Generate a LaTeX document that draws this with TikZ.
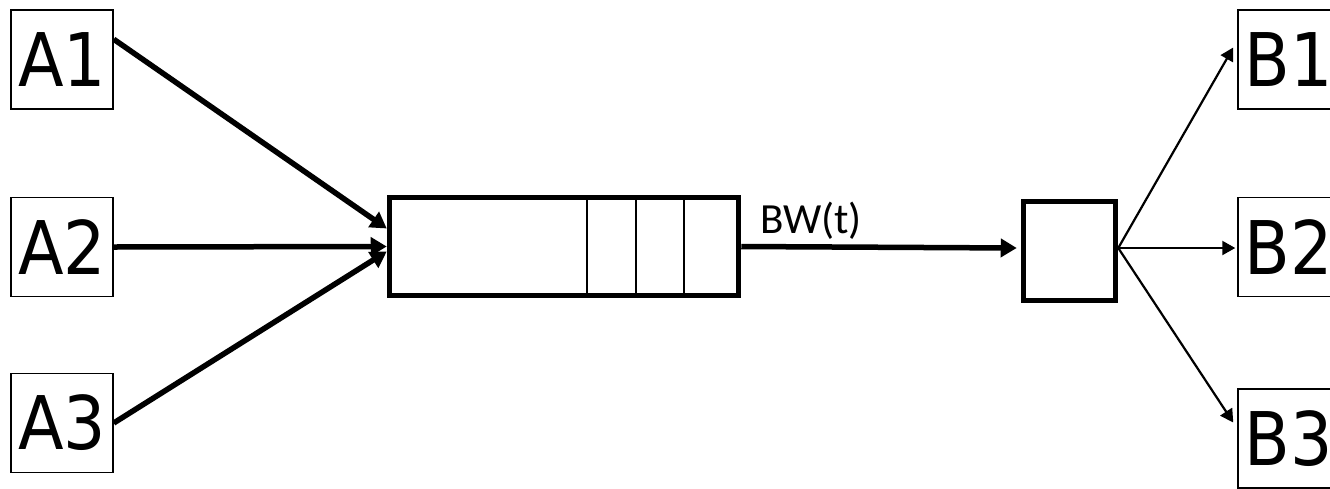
\documentclass[tikz,border=0pt]{standalone}
\usepackage{fontspec}
\usetikzlibrary{arrows.meta,calc}
\newfontfamily\lblfont[FakeStretch=0.9]{DejaVu Sans}
\newfontfamily\bwfont{Carlito}
\begin{document}
\begin{tikzpicture}[x=1pt,y=-1pt,
  endbox/.style={draw, line width=1.5pt, minimum width=102pt, minimum height=99pt, inner sep=0pt,
    font=\lblfont\fontsize{74}{74}\selectfont},
  queuebox/.style={draw, line width=5.5pt, minimum width=349pt, minimum height=98pt, inner sep=0pt},
  srvbox/.style={draw, line width=5.5pt, minimum width=92pt, minimum height=99pt, inner sep=0pt},
  fatarrow/.style={line width=5.5pt, -{Triangle[length=16pt,width=18pt]}},
  thinarrow/.style={line width=2.2pt, -{Triangle[length=13pt,width=14pt]}},
  divider/.style={line width=2pt}]
\useasboundingbox (0,0) rectangle (1330,488);
\clip (0,0) rectangle (1330,488);
\node[endbox] (A1) at (62,59.5) {A1};
\node[endbox] (A2) at (62,247) {A2};
\node[endbox] (A3) at (62,423) {A3};
\node[endbox] (B1) at (1289,59.5) {B1};
\node[endbox] (B2) at (1289,247) {B2};
\node[endbox] (B3) at (1289,438.5) {B3};
\node[queuebox] (q) at (564,246.5) {};
\node[srvbox] (s) at (1069.5,251) {};
\draw[divider] (587,197.5) -- (587,295.5);
\draw[divider] (636,197.5) -- (636,295.5);
\draw[divider] (684,197.5) -- (684,295.5);
\node[anchor=base west, inner sep=0pt, font=\bwfont\fontsize{43}{43}\selectfont] (bw) at (760,233) {BW(t)};
\coordinate (a1s) at ($(A1.north east)+(0,30)$);
\draw[fatarrow] (a1s) -- ($(q.west)+(0,-18)$);
\draw[fatarrow] (A2.east) -- (q.west);
\draw[fatarrow] (A3.east) -- ($(q.west)+(0,5)$);
\draw[fatarrow] (q.east) -- ($(s.west |- q.east)+(-4,1.5)$);
\coordinate (so) at ($(s.east)+(0,-3)$);
\draw[thinarrow] (so) -- ($(B1.west)+(-4,-12)$);
\draw[thinarrow] (so) -- ($(B2.west)+(-2,1)$);
\draw[thinarrow] (so) -- ($(B3.west)+(-4,-16)$);
\end{tikzpicture}
\end{document}
